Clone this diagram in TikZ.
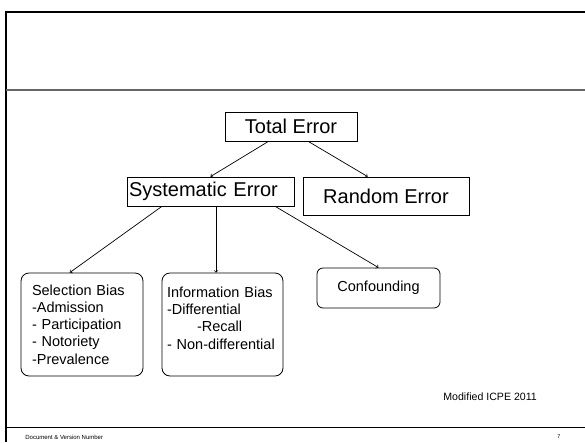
\documentclass[tikz,border=0pt]{standalone}
\usepackage{fontspec}
\setmainfont{Liberation Sans}
\usetikzlibrary{calc}
\begin{document}
\begin{tikzpicture}[x=1pt,y=-1pt,line width=0.7pt,
  errbox/.style={draw,line width=0.8pt,inner sep=2pt,font=\fontsize{20}{24}\selectfont},
  biasbox/.style={draw,line width=0.8pt,rounded corners=8pt,minimum height=103pt,align=left,font=\fontsize{14.5}{17.3}\selectfont}]
\useasboundingbox (0,0) rectangle (585,442);
% slide frame
\draw[line width=2pt] (6,442) -- (6,12) -- (585,12);
\draw[line width=2pt,black!60] (6,89.5) -- (585,89.5);
\draw[line width=1pt] (6,427) -- (585,427);
% boxes
\node[errbox,minimum width=132pt,minimum height=29pt] (total) at (291,126.5) {Total Error};
\node[errbox,text width=163pt,align=left,minimum height=29pt] (syst) at (210.5,191.5) {Systematic Error};
\node[errbox,minimum width=166pt,minimum height=38pt] (rand) at (386,196) {Random Error};
\node[biasbox,text width=100pt,inner xsep=11pt] (selbias) at (82,324.5) {Selection Bias\\-Admission\\- Participation\\- Notoriety\\-Prevalence};
\node[biasbox,text width=111pt,inner xsep=5pt,text depth=65pt] (infobias) at (222.5,324.5) {Information Bias\\-Differential\\\hspace*{30pt}-Recall\\- Non-differential};
\node[draw,line width=0.8pt,rounded corners=6pt,minimum width=123pt,minimum height=40pt,font=\fontsize{14.5}{17.3}\selectfont] (confound) at (378.5,288) {Confounding};
% arrows
\draw[->] ($(total.south west)!.33!(total.south east)$) -- (syst.north);
\draw[->] ($(total.south west)!.63!(total.south east)$) -- ($(rand.north west)!.39!(rand.north east)$);
\draw[->] ($(syst.south west)!.21!(syst.south east)$) -- ($(selbias.north west)!.4!(selbias.north east)$);
\coordinate (sdown) at ($(syst.south west)!.533!(syst.south east)$);
\draw[->] (sdown) -- (sdown |- infobias.north);
\draw[->] ($(syst.south west)!.886!(syst.south east)$) -- (confound.north);
% footer
\node[anchor=west,inner sep=0pt,font=\fontsize{10.6}{13}\selectfont] (source) at (443,397) {Modified ICPE 2011};
\node[anchor=west,inner sep=0pt,font=\fontsize{6}{7}\selectfont] (docnum) at (25,437) {Document \& Version Number};
\node[inner sep=0pt,font=\fontsize{5.5}{7}\selectfont] (pagenum) at (559,437) {7};
\end{tikzpicture}
\end{document}
